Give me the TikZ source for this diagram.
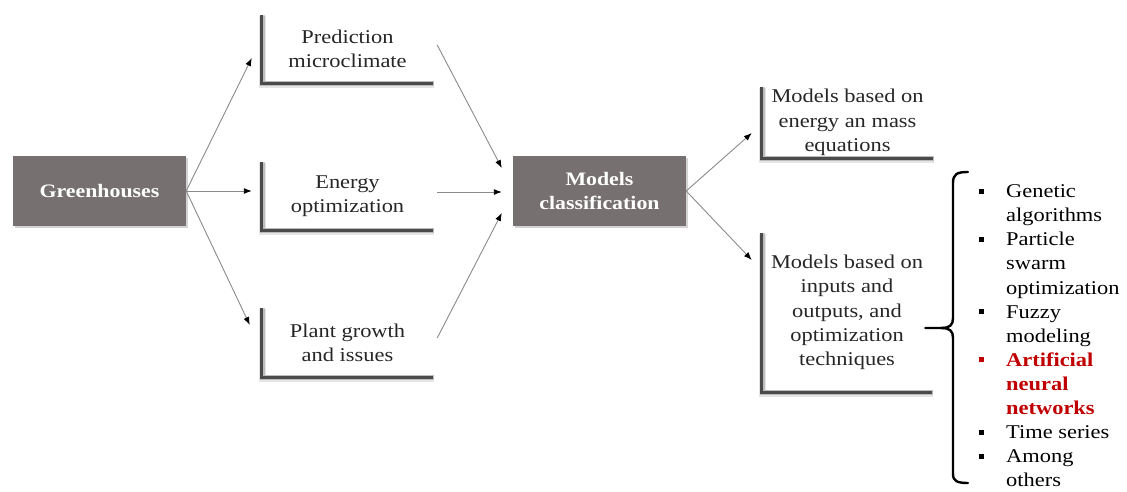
\documentclass[tikz,border=0pt]{standalone}
\usepackage{fontspec}
\setmainfont{Liberation Serif}[FakeStretch=1.15]
\usetikzlibrary{arrows.meta,shadows,calc}
\definecolor{boxgray}{HTML}{767170}
\definecolor{edgegray}{HTML}{8A8A8A}
\definecolor{lgray}{HTML}{4A4A4A}
\definecolor{annred}{HTML}{C00000}
\newcommand{\sqbul}{\makebox[27pt][l]{\rule[4pt]{5pt}{5pt}}}
\newcommand{\sqind}{\hspace*{27pt}}
\begin{document}
\begin{tikzpicture}[x=1pt,y=-1pt,
  txt/.style={font=\fontsize{19.5}{24.3}\selectfont},
  listtxt/.style={font=\fontsize{19.5}{24.1}\selectfont},
  darkbox/.style={txt, fill=boxgray, text=white, font=\fontsize{19}{24.3}\selectfont\bfseries,
    align=center, minimum width=173pt, minimum height=70pt, inner sep=0pt,
    drop shadow={shadow xshift=2pt, shadow yshift=-2pt, opacity=0.35}},
  lbox/.style={txt, align=center, inner sep=0pt, text=black!85},
  flow/.style={draw=edgegray, line width=0.9pt, -{Latex[length=8pt,width=6pt,black]}},
  lsoft/.style={draw=black, line width=7pt, opacity=0.1},
  lmid/.style={draw=black, line width=5pt, opacity=0.18},
  lcore/.style={draw=lgray, line width=3pt},
  bracestyle/.style={draw=black, line width=2.4pt, line cap=round}
]
\useasboundingbox (0,0) rectangle (1127,492);

% main blocks
\node[darkbox] (gh) at (99.5,191) {Greenhouses};
\node[darkbox] (mc) at (599.5,191) {Models\\classification};

% open boxes with a shaded left and bottom rule
\node[lbox, minimum width=171pt, minimum height=68pt] (pm) at (347.5,49) {Prediction\\microclimate};
\node[lbox, minimum width=171pt, minimum height=68pt] (eo) at (347.5,196) {Energy\\optimization};
\node[lbox, minimum width=171pt, minimum height=69pt] (pg) at (347.5,342.5) {Plant growth\\and issues};
\node[lbox, minimum width=171pt, minimum height=71pt] (me) at (847.5,122.5) {Models based on\\energy an mass\\equations};
\node[lbox, minimum width=170pt, minimum height=159pt] (mi) at (847,312.5) {Models based on\\inputs and\\outputs, and\\optimization\\techniques};

\foreach \b in {pm,eo,pg,me,mi}{
  \draw[lsoft] ([shift={(1,1)}]\b.north west) -- ([shift={(1,1)}]\b.south west) -- ([shift={(1,1)}]\b.south east);
  \draw[lmid] ([shift={(0.5,0.5)}]\b.north west) -- ([shift={(0.5,0.5)}]\b.south west) -- ([shift={(0.5,0.5)}]\b.south east);
  \draw[lcore] (\b.north west) -- (\b.south west) -- (\b.south east);
}

% technique list
\node[listtxt, anchor=north west, align=left, inner sep=0pt] (tl) at (979,184.5) {%
\sqbul Genetic\\
\sqind algorithms\\
\sqbul Particle\\
\sqind swarm\\
\sqind optimization\\
\sqbul Fuzzy\\
\sqind modeling\\
\textcolor{annred}{\sqbul\bfseries Artificial}\\
\textcolor{annred}{\sqind\bfseries neural}\\
\textcolor{annred}{\sqind\bfseries networks}\\
\sqbul Time series\\
\sqbul Among\\
\sqind others};

% connectors
\draw[flow] (gh.east) -- ([shift={(-10,9)}]pm.west);
\draw[flow] (gh.east) -- ([shift={(-10,-5)}]eo.west);
\draw[flow] (gh.east) -- ([shift={(-12,-17.5)}]pg.west);
\draw[flow] ([shift={(4,-4)}]pm.east) -- ([shift={(-11,-23)}]mc.west);
\draw[flow] ([shift={(4,-4)}]eo.east) -- ([shift={(-11,1)}]mc.west);
\draw[flow] ([shift={(4,-4.5)}]pg.east) -- ([shift={(-11,22)}]mc.west);
\draw[flow] (mc.east) -- ([shift={(-10,10.5)}]me.west);
\draw[flow] (mc.east) -- ([shift={(-10,-52.5)}]mi.west);

% brace joining the inputs/outputs block to the list
\coordinate (bt) at ([shift={(-7,15.5)}]mi.east);
\draw[bracestyle] (968,172) .. controls (957,172) and (953,174) .. (953,183) -- (953,318)
  .. controls (953,325) and (950,328) .. (941,328) -- (bt);
\draw[bracestyle] (941,328) .. controls (950,328) and (953,331) .. (953,338) -- (953,474)
  .. controls (953,481) and (957,483) .. (968,483);
\end{tikzpicture}
\end{document}
